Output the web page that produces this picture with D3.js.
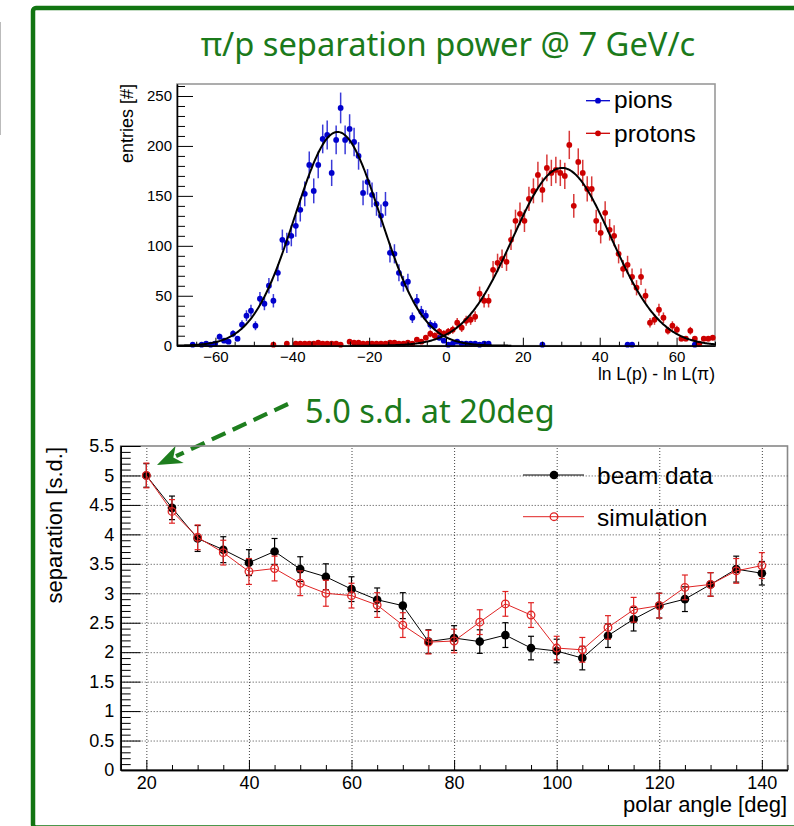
<!DOCTYPE html>
<html><head><meta charset="utf-8">
<script src="https://cdn.jsdelivr.net/npm/d3@7"></script>
<style>body{margin:0;background:#fff}svg{display:block}</style>
</head><body>
<svg id="c" width="794" height="826"></svg>
<script>
// ---------------- DATA ----------------
// top histogram: 120 bins over [-70, 70]
const histRange = [-70, 70];
const histBins = 120;
const pionStartBin = 3;
const pionCounts = [1,0,1,2,1,2,9,5,4,12,7,21,30,35,20,47,42,60,45,73,106,103,110,120,136,152,181,155,181,207,211,173,206,238,206,217,204,190,153,164,151,142,130,142,93,92,73,62,64,28,45,34,30,21,20,8,5,1,2,4,2,2,2,2,1,2,2];
const pionExtraBins = [81,100,101,115];
const pionExtraCounts = [1,1,1,1];
const protonStartBin = 21;
const protonCounts = [1,0,0,2,0,2,2,2,2,2,3,2,2,2,2,1,0,4,3,3,2,2,2,2,2,2,3,3,2,2,3,2,6,4,8,12,10,14,12,14,16,23,18,25,26,29,52,45,45,76,83,87,84,106,125,132,125,147,155,171,156,178,173,176,173,170,201,140,184,173,157,157,125,113,133,116,110,92,77,81,69,58,69,50,23,26,36,28,15,20,16,7,7,15,7,2,7,7,8];
// gaussian fit parameters [amplitude, mean, sigma, from, to]
const pionFit = [214, -28.2, 11.1, -70, 17];
const protonFit = [178, 30.2, 12.8, -25, 70];
const histXTicks = [-60,-40,-20,0,20,40,60];
const histYTicks = [0,50,100,150,200,250];

// bottom graph
const angles = [20,25,30,35,40,45,50,55,60,65,70,75,80,85,90,95,100,105,110,115,120,125,130,135,140];
const beamData = [5.0,4.45,3.93,3.74,3.52,3.71,3.41,3.28,3.07,2.89,2.79,2.18,2.24,2.18,2.29,2.07,2.02,1.90,2.28,2.56,2.79,2.90,3.15,3.41,3.34];
const beamErr  = [0.2,0.2,0.22,0.22,0.22,0.22,0.21,0.22,0.21,0.2,0.22,0.2,0.21,0.2,0.21,0.2,0.2,0.2,0.2,0.2,0.21,0.21,0.2,0.22,0.2];
const simData  = [5.0,4.39,3.95,3.69,3.37,3.42,3.17,3.0,2.96,2.8,2.46,2.17,2.19,2.51,2.82,2.63,2.07,2.04,2.42,2.72,2.79,3.10,3.15,3.38,3.47];
const simErr   = [0.21,0.2,0.21,0.21,0.22,0.21,0.21,0.22,0.21,0.21,0.21,0.2,0.2,0.21,0.21,0.21,0.2,0.21,0.2,0.21,0.21,0.21,0.2,0.21,0.22];
const bottomXTicks = [20,40,60,80,100,120,140];
const bottomYTicks = [0,0.5,1,1.5,2,2.5,3,3.5,4,4.5,5,5.5];

// ---------------- DRAW ----------------
const svg = d3.select("#c");
const ROOTFONT = "'Liberation Sans', Arial, Helvetica, sans-serif";
const OFFICEFONT = "'Noto Sans', 'Open Sans', sans-serif";
const GREEN = "#1b7a1b";

// outer slide frame
svg.append("line").attr("x1",0.5).attr("x2",0.5).attr("y1",22).attr("y2",135).attr("stroke","#bbb").attr("stroke-width",1);
svg.append("rect").attr("x",33).attr("y",8).attr("width",820).attr("height",819.5).attr("rx",3)
  .attr("fill","none").attr("stroke","#127512").attr("stroke-width",4.5);

// title
svg.append("text").attr("x",448).attr("y",56).attr("text-anchor","middle")
  .attr("font-family",OFFICEFONT).attr("font-size",32.7).attr("fill",GREEN)
  .text("π/p separation power @ 7 GeV/c");

function styleAxis(g, fs){
  g.attr("font-family",ROOTFONT).attr("font-size",fs);
  g.selectAll("text").attr("fill","#000");
  g.selectAll(".domain").attr("stroke","#000").attr("stroke-width",1.3);
  g.selectAll(".tick line").attr("stroke","#000").attr("stroke-width",1);
}

// ===== histogram =====
const hx = d3.scaleLinear().domain(histRange).range([177, 715]);
const hy = d3.scaleLinear().domain([0, 262]).range([345.7, 84]);
const binW = (histRange[1]-histRange[0])/histBins;
const binCenter = i => histRange[0] + (i+0.5)*binW;

svg.append("rect").attr("x",hx(histRange[0])).attr("y",hy(262)).attr("width",hx(histRange[1])-hx(histRange[0]))
  .attr("height",hy(0)-hy(262)).attr("fill","none").attr("stroke","#999").attr("stroke-width",1.6);

function histPoints(start, counts, extraBins, extraCounts){
  const pts = counts.map((c,k)=>({x:binCenter(start+k), y:c}));
  extraBins.forEach((b,k)=>pts.push({x:binCenter(b), y:extraCounts[k]}));
  return pts.filter(p=>p.y>0);
}
const pionPts = histPoints(pionStartBin, pionCounts, pionExtraBins, pionExtraCounts);
const protonPts = histPoints(protonStartBin, protonCounts, [], []);

function drawHist(pts, col, errCol){
  const g = svg.append("g");
  g.selectAll("line").data(pts).join("line")
    .attr("x1",d=>hx(d.x)).attr("x2",d=>hx(d.x))
    .attr("y1",d=>hy(d.y-Math.sqrt(d.y))).attr("y2",d=>hy(d.y+Math.sqrt(d.y)))
    .attr("stroke",errCol).attr("stroke-width",1.5);
  g.selectAll("circle").data(pts).join("circle")
    .attr("cx",d=>hx(d.x)).attr("cy",d=>hy(d.y)).attr("r",2.9).attr("fill",col);
}
drawHist(pionPts, "#0000cc", "#3a3ad8");
drawHist(protonPts, "#cc0000", "#d83a3a");

function drawFit(p){
  const [A,m,s,from,to] = p;
  const xs = d3.range(from, to+0.001, 0.25);
  svg.append("path").datum(xs)
    .attr("d", d3.line().x(x=>hx(x)).y(x=>hy(A*Math.exp(-(x-m)*(x-m)/(2*s*s)))))
    .attr("fill","none").attr("stroke","#000").attr("stroke-width",2);
}
drawFit(pionFit);
drawFit(protonFit);

// hist axes
const hxMinor = d3.range(histRange[0], histRange[1]+1, 5).filter(v=>!histXTicks.includes(v));
styleAxis(svg.append("g").attr("transform",`translate(0,${hy(0)})`)
  .call(d3.axisBottom(hx).tickValues(hxMinor).tickSize(-4).tickSizeOuter(0).tickFormat("")), 15);
styleAxis(svg.append("g").attr("transform",`translate(0,${hy(0)})`)
  .call(d3.axisBottom(hx).tickValues(histXTicks).tickSize(-8).tickSizeOuter(0).tickPadding(5.5).tickFormat(d3.format("~g"))), 15);
const hyMinor = d3.range(0, 261, 10).filter(v=>!histYTicks.includes(v));
styleAxis(svg.append("g").attr("transform",`translate(${hx(histRange[0])},0)`)
  .call(d3.axisLeft(hy).tickValues(hyMinor).tickSize(-8).tickSizeOuter(0).tickFormat("")), 15);
styleAxis(svg.append("g").attr("transform",`translate(${hx(histRange[0])},0)`)
  .call(d3.axisLeft(hy).tickValues(histYTicks).tickSize(-16).tickSizeOuter(0).tickPadding(5).tickFormat(d3.format("~g"))), 15);

svg.append("text").attr("transform","translate(133.3,84) rotate(-90)").attr("text-anchor","end")
  .attr("font-family",ROOTFONT).attr("font-size",18).text("entries [#]");
svg.append("text").attr("x",715).attr("y",379.5).attr("text-anchor","end")
  .attr("font-family",ROOTFONT).attr("font-size",17.5).text("ln L(p) - ln L(π)");

// hist legend
[["pions","#0000cc",100.7,108.2],["protons","#cc0000",133.3,141.7]].forEach(([lab,col,ly,by])=>{
  svg.append("line").attr("x1",586).attr("x2",610).attr("y1",ly).attr("y2",ly).attr("stroke",col).attr("stroke-width",1.3);
  svg.append("circle").attr("cx",598).attr("cy",ly).attr("r",2.9).attr("fill",col);
  svg.append("text").attr("x",614).attr("y",by).attr("font-family",ROOTFONT).attr("font-size",24.5).text(lab);
});

// ===== annotation =====
svg.append("text").attr("x",305).attr("y",423).attr("font-family",OFFICEFONT).attr("font-size",32.5)
  .attr("fill",GREEN).text("5.0 s.d. at 20deg");
{
  const tip=[157,465], start=[288,404];
  const dx=tip[0]-start[0], dy=tip[1]-start[1], L=Math.hypot(dx,dy);
  const ux=dx/L, uy=dy/L, px=-uy, py=ux;
  const hl=25, hw=9.5;
  const base=[tip[0]-hl*ux, tip[1]-hl*uy];
  svg.append("line").attr("x1",start[0]).attr("y1",start[1]).attr("x2",base[0]+4*ux).attr("y2",base[1]+4*uy)
    .attr("stroke","#1e7e1e").attr("stroke-width",4.2).attr("stroke-dasharray","15,8");
  const notch=[tip[0]-(hl-7)*ux, tip[1]-(hl-7)*uy];
  svg.append("path").attr("d",`M${tip}L${base[0]+hw*px},${base[1]+hw*py}L${notch}L${base[0]-hw*px},${base[1]-hw*py}Z`)
    .attr("fill","#1e7e1e");
}

// ===== bottom graph =====
const bx = d3.scaleLinear().domain([15,145]).range([120.7,787.5]);
const by = d3.scaleLinear().domain([0,5.5]).range([770,446]);

svg.append("rect").attr("x",bx(15)).attr("y",by(5.5)).attr("width",bx(145)-bx(15)).attr("height",by(0)-by(5.5))
  .attr("fill","none").attr("stroke","#888").attr("stroke-width",1.6);

// grid
const gx = svg.append("g").attr("transform",`translate(0,${by(0)})`)
  .call(d3.axisBottom(bx).tickValues(bottomXTicks).tickSize(-(by(0)-by(5.5))).tickSizeOuter(0).tickFormat(""));
gx.select(".domain").remove();
gx.selectAll("line").attr("stroke","#444").attr("stroke-dasharray","1,2");
const gy = svg.append("g").attr("transform",`translate(${bx(15)},0)`)
  .call(d3.axisLeft(by).tickValues(bottomYTicks.filter(v=>v>0&&v<5.5)).tickSize(-(bx(145)-bx(15))).tickSizeOuter(0).tickFormat(""));
gy.select(".domain").remove();
gy.selectAll("line").attr("stroke","#444").attr("stroke-dasharray","1,2");

// axes
const bxMinor = d3.range(15,146,5).filter(v=>!bottomXTicks.includes(v));
styleAxis(svg.append("g").attr("transform",`translate(0,${by(0)})`)
  .call(d3.axisBottom(bx).tickValues(bxMinor).tickSize(-5).tickSizeOuter(0).tickFormat("")), 18);
styleAxis(svg.append("g").attr("transform",`translate(0,${by(0)})`)
  .call(d3.axisBottom(bx).tickValues(bottomXTicks).tickSize(-10).tickSizeOuter(0).tickPadding(6).tickFormat(d3.format("~g"))), 18);
const byMinor = d3.range(0,55,1).map(v=>v/10).filter(v=>!bottomYTicks.includes(v));
styleAxis(svg.append("g").attr("transform",`translate(${bx(15)},0)`)
  .call(d3.axisLeft(by).tickValues(byMinor).tickSize(-10).tickSizeOuter(0).tickFormat("")), 18);
styleAxis(svg.append("g").attr("transform",`translate(${bx(15)},0)`)
  .call(d3.axisLeft(by).tickValues(bottomYTicks).tickSize(-20).tickSizeOuter(0).tickPadding(6.5).tickFormat(d3.format("~g"))), 18);

svg.append("text").attr("transform","translate(62,447) rotate(-90)").attr("text-anchor","end")
  .attr("font-family",ROOTFONT).attr("font-size",22).text("separation [s.d.]");
svg.append("text").attr("x",787).attr("y",811.5).attr("text-anchor","end")
  .attr("font-family",ROOTFONT).attr("font-size",22).text("polar angle [deg]");

function drawGraph(vals, errs, col, filled){
  const pts = angles.map((a,i)=>({x:a,y:vals[i],e:errs[i]}));
  const g = svg.append("g");
  g.append("path").datum(pts).attr("d",d3.line().x(d=>bx(d.x)).y(d=>by(d.y)))
    .attr("fill","none").attr("stroke",col).attr("stroke-width",1);
  pts.forEach(d=>{
    const X=bx(d.x), y1=by(d.y-d.e), y2=by(d.y+d.e);
    g.append("line").attr("x1",X).attr("x2",X).attr("y1",y1).attr("y2",y2).attr("stroke",col).attr("stroke-width",1.2);
    [y1,y2].forEach(yy=>g.append("line").attr("x1",X-3).attr("x2",X+3).attr("y1",yy).attr("y2",yy).attr("stroke",col).attr("stroke-width",1.2));
  });
  g.selectAll("circle").data(pts).join("circle").attr("cx",d=>bx(d.x)).attr("cy",d=>by(d.y))
    .attr("r",filled?4.3:3.8).attr("fill",filled?col:"none").attr("stroke",col).attr("stroke-width",filled?0:1.3);
}
drawGraph(beamData, beamErr, "#000", true);
drawGraph(simData, simErr, "#e02424", false);

// bottom legend
svg.append("line").attr("x1",523).attr("x2",584).attr("y1",475).attr("y2",475).attr("stroke","#000").attr("stroke-width",1);
svg.append("circle").attr("cx",554).attr("cy",475).attr("r",4.3).attr("fill","#000");
svg.append("text").attr("x",597).attr("y",484).attr("font-family",ROOTFONT).attr("font-size",24.5).text("beam data");
svg.append("line").attr("x1",523).attr("x2",584).attr("y1",516.7).attr("y2",516.7).attr("stroke","#e02424").attr("stroke-width",1);
svg.append("circle").attr("cx",554).attr("cy",516.7).attr("r",3.8).attr("fill","none").attr("stroke","#e02424").attr("stroke-width",1.3);
svg.append("text").attr("x",597).attr("y",526).attr("font-family",ROOTFONT).attr("font-size",24.5).text("simulation");
</script>
</body></html>
